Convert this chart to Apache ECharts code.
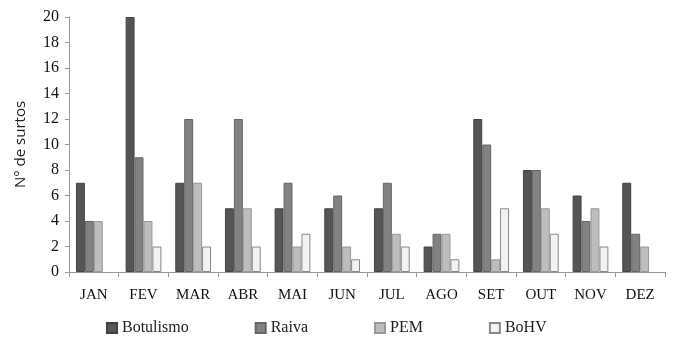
<!DOCTYPE html>
<html><head><meta charset="utf-8">
<script src="https://cdn.jsdelivr.net/npm/echarts@6/dist/echarts.min.js"></script>
<style>html,body{margin:0;padding:0;background:#fff}#c{width:675px;height:344px}</style>
</head><body><div id="c"></div>
<script>
const categories = ['JAN','FEV','MAR','ABR','MAI','JUN','JUL','AGO','SET','OUT','NOV','DEZ'];
const botulismo = [7,20,7,5,5,5,5,2,12,8,6,7];
const raiva = [4,9,12,12,7,6,7,3,10,8,4,3];
const pem = [4,4,7,5,2,2,3,3,1,5,5,2];
const bohv = [0,2,2,2,3,1,2,1,5,3,2,0];
const yTicks = [0,2,4,6,8,10,12,14,16,18,20];

const serif = 'Liberation Serif';
function s(name, data, color, border) {
  return {name, type:'bar', data: data.map(v => v === 0 ? null : v), barGap:'0%', barCategoryGap:'28%',
    itemStyle:{color, borderColor:border, borderWidth:1}};
}
const chart = echarts.init(document.getElementById('c'));
chart.setOption({
  animation:false,
  textStyle:{fontFamily:serif},
  grid:{left:69,right:10,top:17,bottom:72},
  legend:{bottom:3,left:101,icon:'rect',itemWidth:10,itemHeight:10,itemGap:66,
    textStyle:{fontFamily:serif,fontSize:16,color:'#222'},
    data:['Botulismo','Raiva','PEM','BoHV']},
  xAxis:{type:'category',data:categories,
    axisLine:{lineStyle:{color:'#999'}},
    axisTick:{show:true,length:5,lineStyle:{color:'#999'}},
    axisLabel:{fontFamily:serif,fontSize:15,color:'#111',margin:16}},
  yAxis:{type:'value',min:yTicks[0],max:yTicks[yTicks.length-1],interval:2,
    name:'N° de surtos',nameLocation:'middle',nameGap:41,
    nameTextStyle:{fontFamily:'Open Sans',fontSize:15,color:'#222'},
    axisLine:{show:true,lineStyle:{color:'#999'}},
    axisTick:{show:true,length:4,lineStyle:{color:'#999'}},
    splitLine:{show:false},
    axisLabel:{fontFamily:serif,fontSize:16,color:'#111',margin:10}},
  series:[
    s('Botulismo',botulismo,'#555555','#444'),
    s('Raiva',raiva,'#828282','#666'),
    s('PEM',pem,'#bdbdbd','#999'),
    s('BoHV',bohv,'#f2f2f2','#888')
  ]
});
</script></body></html>
